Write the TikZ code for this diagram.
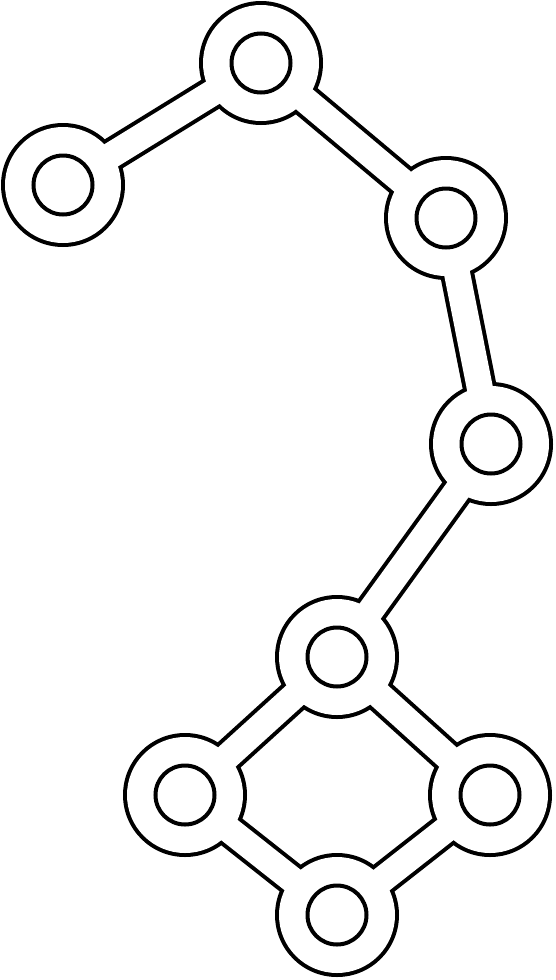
\documentclass[tikz,border=0pt]{standalone}
\tikzset{
  star/.style={circle,inner sep=0pt,minimum size=120pt},
  hole/.style={circle,draw,line width=4pt,inner sep=0pt,minimum size=59pt},
}
\begin{document}
\begin{tikzpicture}[x=1pt,y=-1pt]
\useasboundingbox (0,0) rectangle (555,980);
% stars
\node[star] (n1) at (63,185) {};
\node[star] (n2) at (261,63) {};
\node[star] (n3) at (446,218) {};
\node[star] (n4) at (491,444) {};
\node[star] (n5) at (337,657) {};
\node[star] (n6) at (185,795) {};
\node[star] (n7) at (490,795) {};
\node[star] (n8) at (337,915) {};
% black outline
\foreach \a/\b in {n1/n2,n2/n3,n3/n4,n4/n5,n5/n6,n5/n7,n6/n8,n7/n8}
  \draw[line width=34pt] (\a.center) -- (\b.center);
\foreach \n in {n1,n2,n3,n4,n5,n6,n7,n8}
  \fill (\n) circle (62pt);
% white inside
\foreach \a/\b in {n1/n2,n2/n3,n3/n4,n4/n5,n5/n6,n5/n7,n6/n8,n7/n8}
  \draw[white,line width=26pt] (\a.center) -- (\b.center);
\foreach \n in {n1,n2,n3,n4,n5,n6,n7,n8}
  \fill[white] (\n) circle (58pt);
% holes
\foreach \n in {n1,n2,n3,n4,n5,n6,n7,n8}
  \node[hole] (h\n) at (\n) {};
\end{tikzpicture}
\end{document}
